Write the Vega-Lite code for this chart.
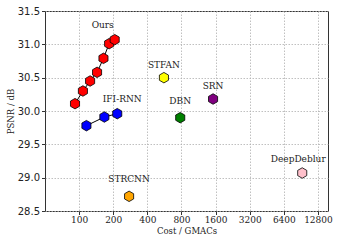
{
  "$schema": "https://vega.github.io/schema/vega-lite/v6.json",
  "autosize": "none",
  "width": 283,
  "height": 200,
  "padding": {"left": 45, "top": 11, "right": 13, "bottom": 33},
  "background": "white",
  "config": {
    "view": {"stroke": "#333", "strokeWidth": 1},
    "axis": {
      "gridColor": "#b0b0b0",
      "gridDash": [1.5, 1.5],
      "gridWidth": 0.8,
      "domain": false,
      "tickColor": "#333",
      "tickSize": 3.5,
      "labelColor": "#222",
      "titleColor": "#222",
      "titleFontWeight": "normal",
      "titleFont": "DejaVu Serif",
      "titleFontSize": 8.5
    }
  },
  "data": {
    "values": [
      {"method": "Ours", "cost": 92, "psnr": 30.11},
      {"method": "Ours", "cost": 108, "psnr": 30.30},
      {"method": "Ours", "cost": 125, "psnr": 30.45},
      {"method": "Ours", "cost": 144, "psnr": 30.58},
      {"method": "Ours", "cost": 164, "psnr": 30.79},
      {"method": "Ours", "cost": 184, "psnr": 31.01},
      {"method": "Ours", "cost": 206, "psnr": 31.07, "label": "Ours"},
      {"method": "IFI-RNN", "cost": 116, "psnr": 29.78},
      {"method": "IFI-RNN", "cost": 167, "psnr": 29.91},
      {"method": "IFI-RNN", "cost": 217, "psnr": 29.96, "label": "IFI-RNN"},
      {"method": "STFAN", "cost": 560, "psnr": 30.50, "label": "STFAN"},
      {"method": "SRN", "cost": 1520, "psnr": 30.18, "label": "SRN"},
      {"method": "DBN", "cost": 780, "psnr": 29.90, "label": "DBN"},
      {"method": "STRCNN", "cost": 276, "psnr": 28.72, "label": "STRCNN"},
      {"method": "DeepDeblur", "cost": 9300, "psnr": 29.07, "label": "DeepDeblur"}
    ]
  },
  "encoding": {
    "x": {
      "field": "cost", "type": "quantitative",
      "scale": {"type": "log", "domain": [50, 15700], "nice": false},
      "axis": {
        "title": "Cost / GMACs",
        "values": [100, 200, 400, 800, 1600, 3200, 6400, 12800],
        "format": "d",
        "labelFont": "DejaVu Serif",
        "labelFontSize": 9,
        "labelPadding": 1,
        "titlePadding": 2
      }
    },
    "y": {
      "field": "psnr", "type": "quantitative",
      "scale": {"domain": [28.5, 31.5], "nice": false, "zero": false},
      "axis": {
        "title": "PSNR / dB",
        "values": [28.5, 29.0, 29.5, 30.0, 30.5, 31.0, 31.5],
        "format": ".1f",
        "labelFont": "DejaVu Sans",
        "labelFontSize": 10,
        "labelPadding": 2,
        "titlePadding": 2
      }
    }
  },
  "layer": [
    {
      "transform": [{"filter": {"field": "method", "oneOf": ["Ours", "IFI-RNN"]}}],
      "mark": {"type": "line", "color": "black", "strokeWidth": 1},
      "encoding": {"detail": {"field": "method"}, "order": {"field": "cost"}}
    },
    {
      "mark": {
        "type": "point",
        "shape": "M0,-1L0.866,-0.5L0.866,0.5L0,1L-0.866,0.5L-0.866,-0.5Z",
        "filled": true,
        "size": 110,
        "stroke": "black",
        "strokeWidth": 0.8,
        "opacity": 1
      },
      "encoding": {
        "color": {
          "field": "method", "type": "nominal", "legend": null,
          "scale": {
            "domain": ["Ours", "IFI-RNN", "STFAN", "SRN", "DBN", "STRCNN", "DeepDeblur"],
            "range": ["#ff0000", "#0000ff", "#ffff00", "#800080", "#008000", "#ffa500", "#ffc0cb"]
          }
        }
      }
    },
    {
      "transform": [{"filter": {"field": "method", "oneOf": ["STFAN", "SRN"]}}],
      "mark": {"type": "text", "font": "DejaVu Serif", "fontSize": 9, "dy": -13, "color": "#222"},
      "encoding": {"text": {"field": "label"}}
    },
    {
      "transform": [{"filter": {"field": "method", "oneOf": ["DBN", "STRCNN"]}}],
      "mark": {"type": "text", "font": "DejaVu Serif", "fontSize": 9, "dy": -17, "color": "#222"},
      "encoding": {"text": {"field": "label"}}
    },
    {
      "transform": [{"filter": {"field": "method", "oneOf": ["DeepDeblur"]}}],
      "mark": {"type": "text", "font": "DejaVu Serif", "fontSize": 9, "dx": -4, "dy": -14, "color": "#222"},
      "encoding": {"text": {"field": "label"}}
    },
    {
      "transform": [{"filter": "datum.method === 'IFI-RNN' && datum.label"}],
      "mark": {"type": "text", "font": "DejaVu Serif", "fontSize": 9, "dx": 5, "dy": -15, "color": "#222"},
      "encoding": {"text": {"field": "label"}}
    },
    {
      "transform": [{"filter": "datum.method === 'Ours' && datum.label"}],
      "mark": {"type": "text", "font": "DejaVu Serif", "fontSize": 9, "dx": -12, "dy": -15, "color": "#222"},
      "encoding": {"text": {"field": "label"}}
    }
  ]
}
